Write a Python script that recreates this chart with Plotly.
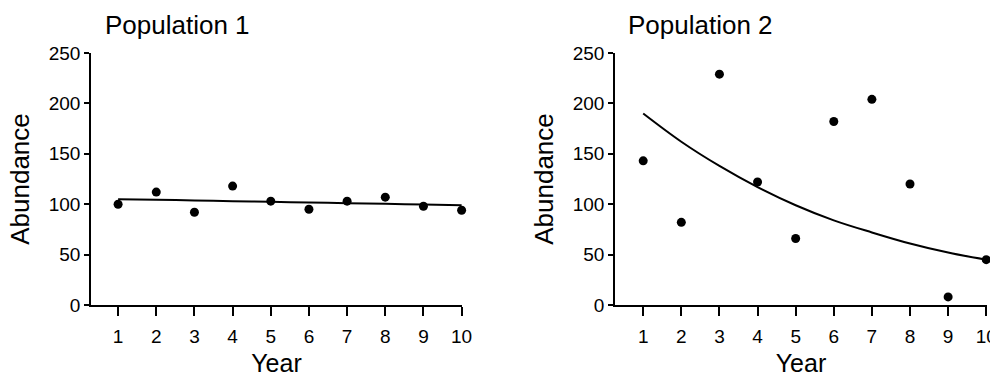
import plotly.graph_objects as go

years = [1, 2, 3, 4, 5, 6, 7, 8, 9, 10]
pop1_obs = [100, 112, 92, 118, 103, 95, 103, 107, 98, 94]
pop1_fit = [105, 104.4, 103.7, 103, 102.4, 101.7, 101, 100.4, 99.7, 99]
pop2_obs = [143, 82, 229, 122, 66, 182, 204, 120, 8, 45]
pop2_fit = [190, 162, 138, 117, 99, 84, 72, 61, 52, 45]
y_ticks = [0, 50, 100, 150, 200, 250]
titles = ["Population 1", "Population 2"]

W, H = 990, 377
FONT = "Liberation Sans, Arial, Helvetica, sans-serif"

fig = go.Figure()
panels = [(pop1_obs, pop1_fit, "x", "y"), (pop2_obs, pop2_fit, "x2", "y2")]
for obs, fit, xa, ya in panels:
    fig.add_trace(go.Scatter(x=years, y=fit, mode="lines", line=dict(color="black", width=2, shape="spline"),
                             xaxis=xa, yaxis=ya, showlegend=False, cliponaxis=False, hoverinfo="skip"))
    fig.add_trace(go.Scatter(x=years, y=obs, mode="markers", marker=dict(color="black", size=9),
                             xaxis=xa, yaxis=ya, showlegend=False, cliponaxis=False))

ydom = [1 - 305 / H, 1 - 53 / H]
xdoms = [[91 / W, 462 / W], [615 / W, 987 / W]]
xranges = [[0.29, 10.01], [0.26, 10.02]]

common_x = dict(showline=True, linecolor="black", linewidth=1.5, ticks="outside", ticklen=9, tickwidth=1.5,
                tickcolor="black", tickvals=years, showgrid=False, zeroline=False, automargin=False,
                ticklabeloverflow="allow",
                tickfont=dict(family=FONT, size=19, color="black"), ticklabelstandoff=4,
                title=dict(text="Year", font=dict(family=FONT, size=25, color="black")))
common_y = dict(showline=True, linecolor="black", linewidth=1.5, ticks="outside", ticklen=5, tickwidth=1.5,
                tickcolor="black", tickvals=y_ticks, range=[0, 250], showgrid=False, zeroline=False,
                automargin=False, tickfont=dict(family=FONT, size=19, color="black"),
                title=dict(text="Abundance", font=dict(family=FONT, size=26, color="black")))

fig.update_layout(
    template="none",
    width=W, height=H, margin=dict(l=0, r=0, t=0, b=0, pad=0),
    paper_bgcolor="white", plot_bgcolor="white",
    xaxis=dict(domain=xdoms[0], range=xranges[0], anchor="y", **common_x),
    yaxis=dict(domain=ydom, anchor="x", **common_y),
    xaxis2=dict(domain=xdoms[1], range=xranges[1], anchor="y2", **common_x),
    yaxis2=dict(domain=ydom, anchor="x2", **common_y),
)

for i, t in enumerate(titles):
    fig.add_annotation(text=t, xref="paper", yref="paper", x=(103 if i == 0 else 626) / W, y=1 - 25 / H,
                       xanchor="left", yanchor="middle", showarrow=False,
                       font=dict(family=FONT, size=26, color="black"))

fig.write_html("out.html", config={"displayModeBar": False},
               post_script="document.body.style.margin='0';")
